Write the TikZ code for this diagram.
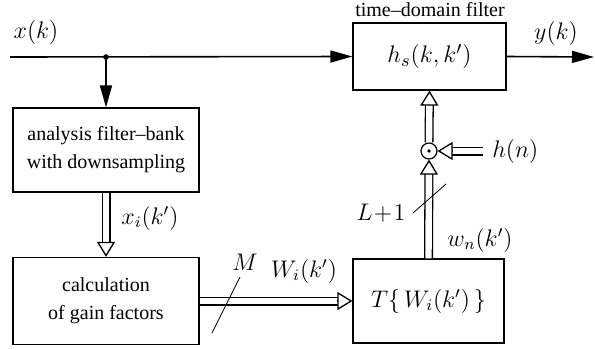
\documentclass[tikz,border=0pt]{standalone}
\usepackage{fontspec}
\setmainfont{Liberation Serif}
\usetikzlibrary{arrows.meta,calc}
\newcommand\dblarrow[2]{%
  \draw[dblline] (#1) -- (#2);
  \draw[dbltip] ($(#2)!7.5pt!(#1)$) -- (#2);}
\begin{document}
\begin{tikzpicture}[x=0.5pt,y=-0.5pt,
  box/.style={draw,line width=0.6pt,inner sep=0pt,align=center,font=\fontsize{10}{14}\selectfont},
  sig/.style={line width=0.8pt,-{Triangle[length=11pt,width=6pt]}},
  dblline/.style={double,double distance=3.2pt,line width=0.65pt,shorten >=7.2pt},
  dbltip/.style={line width=0.65pt,-{Triangle[open,length=7.5pt,width=9pt]}},
  lbl/.style={font=\fontsize{12}{14}\selectfont,inner sep=0pt},
  txt/.style={font=\fontsize{10}{12}\selectfont,inner sep=0pt},
  slash/.style={line width=0.4pt},
  ]
\useasboundingbox (0,0) rectangle (595,349);
% blocks
\node[box,minimum width=93pt,minimum height=42pt] (afb) at (106,150) {analysis filter–bank\\with downsampling};
\node[box,minimum width=93pt,minimum height=43.5pt] (cgf) at (106,301) {calculation\\of gain factors};
\node[box,minimum width=75.5pt,minimum height=42pt,font=\fontsize{12}{14}\selectfont] (tw) at (428.5,301) {$T\{\,W_i(k')\,\}$};
\node[box,minimum width=76.5pt,minimum height=33.5pt,font=\fontsize{13}{15}\selectfont] (hs) at (429.5,56.5) {$h_s(k,k')$};
\node[txt] (tdf) at (430,10) {time–domain filter};
\node[circle,draw,line width=0.6pt,minimum size=8pt,inner sep=0pt] (mul) at (429,151) {};
\fill (mul.center) circle (0.9pt);
% coordinates
\coordinate (in) at (10,57);
\coordinate (split) at (106,57);
\coordinate (out) at (594,57);
\coordinate (hn) at (483,151);
% signal lines
\draw[sig] (in) -- (hs.west);
\fill (split) circle (1.4pt);
\draw[sig] (split) -- (afb.north);
\draw[sig] (hs.east) -- (out);
% double arrows
\dblarrow{afb.south}{cgf.north}
\dblarrow{cgf.east}{tw.west}
\dblarrow{tw.north}{mul.south}
\dblarrow{mul.north}{hs.south}
\dblarrow{hn}{mul.east}
% slashes
\coordinate (m1) at (212,333); \coordinate (m2) at (240,277);
\draw[slash] (m1) -- (m2);
\coordinate (l1) at (413,213); \coordinate (l2) at (446,184);
\draw[slash] (l1) -- (l2);
% labels
\node[lbl] (xk) at (36,32) {$x(k)$};
\node[lbl] (yk) at (556,33) {$y(k)$};
\node[lbl,anchor=west] (xi) at (121,218) {$x_i(k')$};
\node[lbl] (M) at (245,262) {$M$};
\node[lbl] (Wi) at (304,271) {$W_i(k')$};
\node[lbl] (L) at (381,213) {$L\!+\!1$};
\node[lbl] (wn) at (480,240) {$w_n(k')$};
\node[lbl,anchor=west] (hnl) at (492,151) {$h(n)$};
\end{tikzpicture}
\end{document}
